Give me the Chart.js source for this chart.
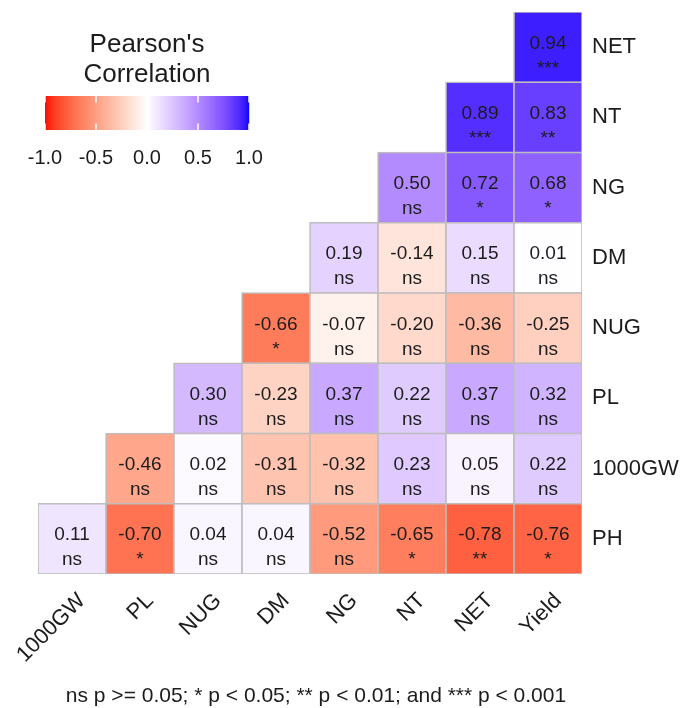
<!DOCTYPE html>
<html>
<head>
<meta charset="utf-8">
<script src="https://cdn.jsdelivr.net/npm/chart.js@4/dist/chart.umd.min.js"></script>
<style>
  html, body { margin: 0; padding: 0; background: #ffffff; }
  #wrap { width: 686px; height: 708px; position: relative; }
</style>
</head>
<body>
<div id="wrap"><canvas id="corr" width="686" height="708"></canvas></div>
<script>
// Traits on the horizontal axis (left to right) and vertical axis (bottom to top)
const xLabels = ['1000GW', 'PL', 'NUG', 'DM', 'NG', 'NT', 'NET', 'Yield'];
const yLabels = ['PH', '1000GW', 'PL', 'NUG', 'DM', 'NG', 'NT', 'NET'];

// Pearson coefficients per row, one entry per x trait (null = empty cell)
const corrPH     = [0.11, -0.70, 0.04, 0.04, -0.52, -0.65, -0.78, -0.76];
const corr1000GW = [null, -0.46, 0.02, -0.31, -0.32, 0.23, 0.05, 0.22];
const corrPL     = [null, null, 0.30, -0.23, 0.37, 0.22, 0.37, 0.32];
const corrNUG    = [null, null, null, -0.66, -0.07, -0.20, -0.36, -0.25];
const corrDM     = [null, null, null, null, 0.19, -0.14, 0.15, 0.01];
const corrNG     = [null, null, null, null, null, 0.50, 0.72, 0.68];
const corrNT     = [null, null, null, null, null, null, 0.89, 0.83];
const corrNET    = [null, null, null, null, null, null, null, 0.94];

// Significance codes per row
const sigPH     = ['ns', '*', 'ns', 'ns', 'ns', '*', '**', '*'];
const sig1000GW = [null, 'ns', 'ns', 'ns', 'ns', 'ns', 'ns', 'ns'];
const sigPL     = [null, null, 'ns', 'ns', 'ns', 'ns', 'ns', 'ns'];
const sigNUG    = [null, null, null, '*', 'ns', 'ns', 'ns', 'ns'];
const sigDM     = [null, null, null, null, 'ns', 'ns', 'ns', 'ns'];
const sigNG     = [null, null, null, null, null, 'ns', '*', '*'];
const sigNT     = [null, null, null, null, null, null, '***', '**'];
const sigNET    = [null, null, null, null, null, null, null, '***'];

const legendTicks = [-1, -0.5, 0, 0.5, 1];
const legendTitle = ["Pearson's", 'Correlation'];
const footnote = 'ns p >= 0.05; * p < 0.05; ** p < 0.01; and *** p < 0.001';

const corrRows = [corrPH, corr1000GW, corrPL, corrNUG, corrDM, corrNG, corrNT, corrNET];
const sigRows  = [sigPH, sig1000GW, sigPL, sigNUG, sigDM, sigNG, sigNT, sigNET];

const FONT = "'Liberation Sans', Arial, sans-serif";
const INK = '#1c1c1c';

// ---- diverging red / white / blue scale interpolated in CIELAB ----
function toLin(c) { c /= 255; return c <= 0.04045 ? c / 12.92 : Math.pow((c + 0.055) / 1.055, 2.4); }
function fromLin(c) {
  const v = c <= 0.0031308 ? 12.92 * c : 1.055 * Math.pow(c, 1 / 2.4) - 0.055;
  return Math.round(Math.min(1, Math.max(0, v)) * 255);
}
function rgbToLab(rgb) {
  const R = toLin(rgb[0]), G = toLin(rgb[1]), B = toLin(rgb[2]);
  const X = (0.4124564 * R + 0.3575761 * G + 0.1804375 * B) / 0.95047;
  const Y = (0.2126729 * R + 0.7151522 * G + 0.0721750 * B);
  const Z = (0.0193339 * R + 0.1191920 * G + 0.9503041 * B) / 1.08883;
  const f = t => t > 216 / 24389 ? Math.cbrt(t) : (24389 / 27 * t + 16) / 116;
  const fx = f(X), fy = f(Y), fz = f(Z);
  return [116 * fy - 16, 500 * (fx - fy), 200 * (fy - fz)];
}
function labToRgb(lab) {
  const fy = (lab[0] + 16) / 116, fx = fy + lab[1] / 500, fz = fy - lab[2] / 200;
  const inv = t => t * t * t > 216 / 24389 ? t * t * t : (116 * t - 16) / (24389 / 27);
  const X = inv(fx) * 0.95047, Y = inv(fy), Z = inv(fz) * 1.08883;
  return [
    fromLin(3.2404542 * X - 1.5371385 * Y - 0.4985314 * Z),
    fromLin(-0.9692660 * X + 1.8760108 * Y + 0.0415560 * Z),
    fromLin(0.0556434 * X - 0.2040259 * Y + 1.0572252 * Z)
  ];
}
const LAB_LOW = rgbToLab([255, 0, 0]);
const LAB_MID = rgbToLab([255, 255, 255]);
const LAB_HIGH = rgbToLab([0, 0, 255]);
function fillFor(v) {
  const end = v >= 0 ? LAB_HIGH : LAB_LOW;
  const t = Math.min(1, Math.abs(v));
  const lab = LAB_MID.map((m, i) => m + (end[i] - m) * t);
  const c = labToRgb(lab);
  return `rgb(${c[0]},${c[1]},${c[2]})`;
}

// ---- one floating-bar dataset per row; each bar spans one tile ----
const datasets = corrRows.map((row, r) => ({
  label: yLabels[r],
  data: row.map(v => v === null ? null : [r - 0.5, r + 0.5]),
  backgroundColor: row.map(v => v === null ? 'rgba(0,0,0,0)' : fillFor(v)),
  borderColor: '#bdbdbd',
  borderWidth: row.map(v => v === null ? 0 : 1.6),
  borderSkipped: false,
  inflateAmount: 0.8,
  barPercentage: 1,
  categoryPercentage: 1,
  grouped: false
}));

// Tile labels: coefficient on the first line, significance code below it
const tileText = {
  id: 'tileText',
  afterDatasetsDraw(chart) {
    const { ctx, scales: { x, y } } = chart;
    ctx.save();
    ctx.fillStyle = INK;
    ctx.textAlign = 'center';
    ctx.textBaseline = 'alphabetic';
    ctx.font = `19px ${FONT}`;
    corrRows.forEach((row, r) => {
      row.forEach((v, c) => {
        if (v === null) return;
        const px = x.getPixelForValue(c);
        const py = y.getPixelForValue(r);
        ctx.fillText(v.toFixed(2), px, py + 1.5);
        ctx.fillText(sigRows[r][c], px, py + 26.5);
      });
    });
    ctx.restore();
  }
};

// Colour-bar legend in the empty upper-left corner, plus the footnote
const colourBar = {
  id: 'colourBar',
  afterDraw(chart) {
    const ctx = chart.ctx;
    const x0 = 45, x1 = 249, y0 = 96, y1 = 130;
    const cx = (x0 + x1) / 2;
    const pos = v => x0 + (v + 1) / 2 * (x1 - x0);
    ctx.save();
    ctx.fillStyle = INK;
    ctx.textAlign = 'center';
    ctx.textBaseline = 'alphabetic';
    ctx.font = `26px ${FONT}`;
    ctx.fillText(legendTitle[0], cx, 52);
    ctx.fillText(legendTitle[1], cx, 82);

    for (let px = x0; px < x1; px++) {
      const v = ((px + 0.5 - x0) / (x1 - x0)) * 2 - 1;
      ctx.fillStyle = fillFor(v);
      ctx.fillRect(px, y0, 1.2, y1 - y0);
    }
    ctx.strokeStyle = '#ffffff';
    ctx.lineWidth = 1.5;
    legendTicks.forEach(v => {
      const px = pos(v);
      ctx.beginPath();
      ctx.moveTo(px, y0); ctx.lineTo(px, y0 + 6.5);
      ctx.moveTo(px, y1 - 6.5); ctx.lineTo(px, y1);
      ctx.stroke();
    });

    ctx.fillStyle = INK;
    ctx.font = `20px ${FONT}`;
    legendTicks.forEach(v => ctx.fillText(v.toFixed(1), pos(v), 163.5));

    ctx.font = `21px ${FONT}`;
    ctx.fillText(footnote, 316, 702);
    ctx.restore();
  }
};

new Chart(document.getElementById('corr'), {
  type: 'bar',
  data: { labels: xLabels, datasets },
  options: {
    responsive: false,
    animation: false,
    layout: { padding: { left: 38, top: 12, right: 0, bottom: 0 } },
    plugins: { legend: { display: false }, tooltip: { enabled: false }, title: { display: false } },
    scales: {
      x: {
        type: 'category',
        offset: true,
        grid: { display: false, drawTicks: false },
        border: { display: false },
        ticks: {
          autoSkip: false, minRotation: 45, maxRotation: 45, padding: 14, labelOffset: 10,
          color: INK, font: { family: FONT, size: 22 }
        },
        afterFit(axis) { axis.height = 134; axis.paddingLeft = 0; axis.paddingRight = 0; }
      },
      y: {
        type: 'linear',
        position: 'right',
        min: -0.5, max: 7.5,
        grid: { display: false, drawTicks: false },
        border: { display: false },
        afterBuildTicks(axis) { axis.ticks = yLabels.map((_, i) => ({ value: i })); },
        ticks: {
          padding: 10, color: INK, font: { family: FONT, size: 22 },
          callback: v => yLabels[v]
        },
        afterFit(axis) { axis.width = 104; axis.paddingTop = 0; axis.paddingBottom = 0; }
      }
    }
  },
  plugins: [tileText, colourBar]
});
</script>
</body>
</html>
